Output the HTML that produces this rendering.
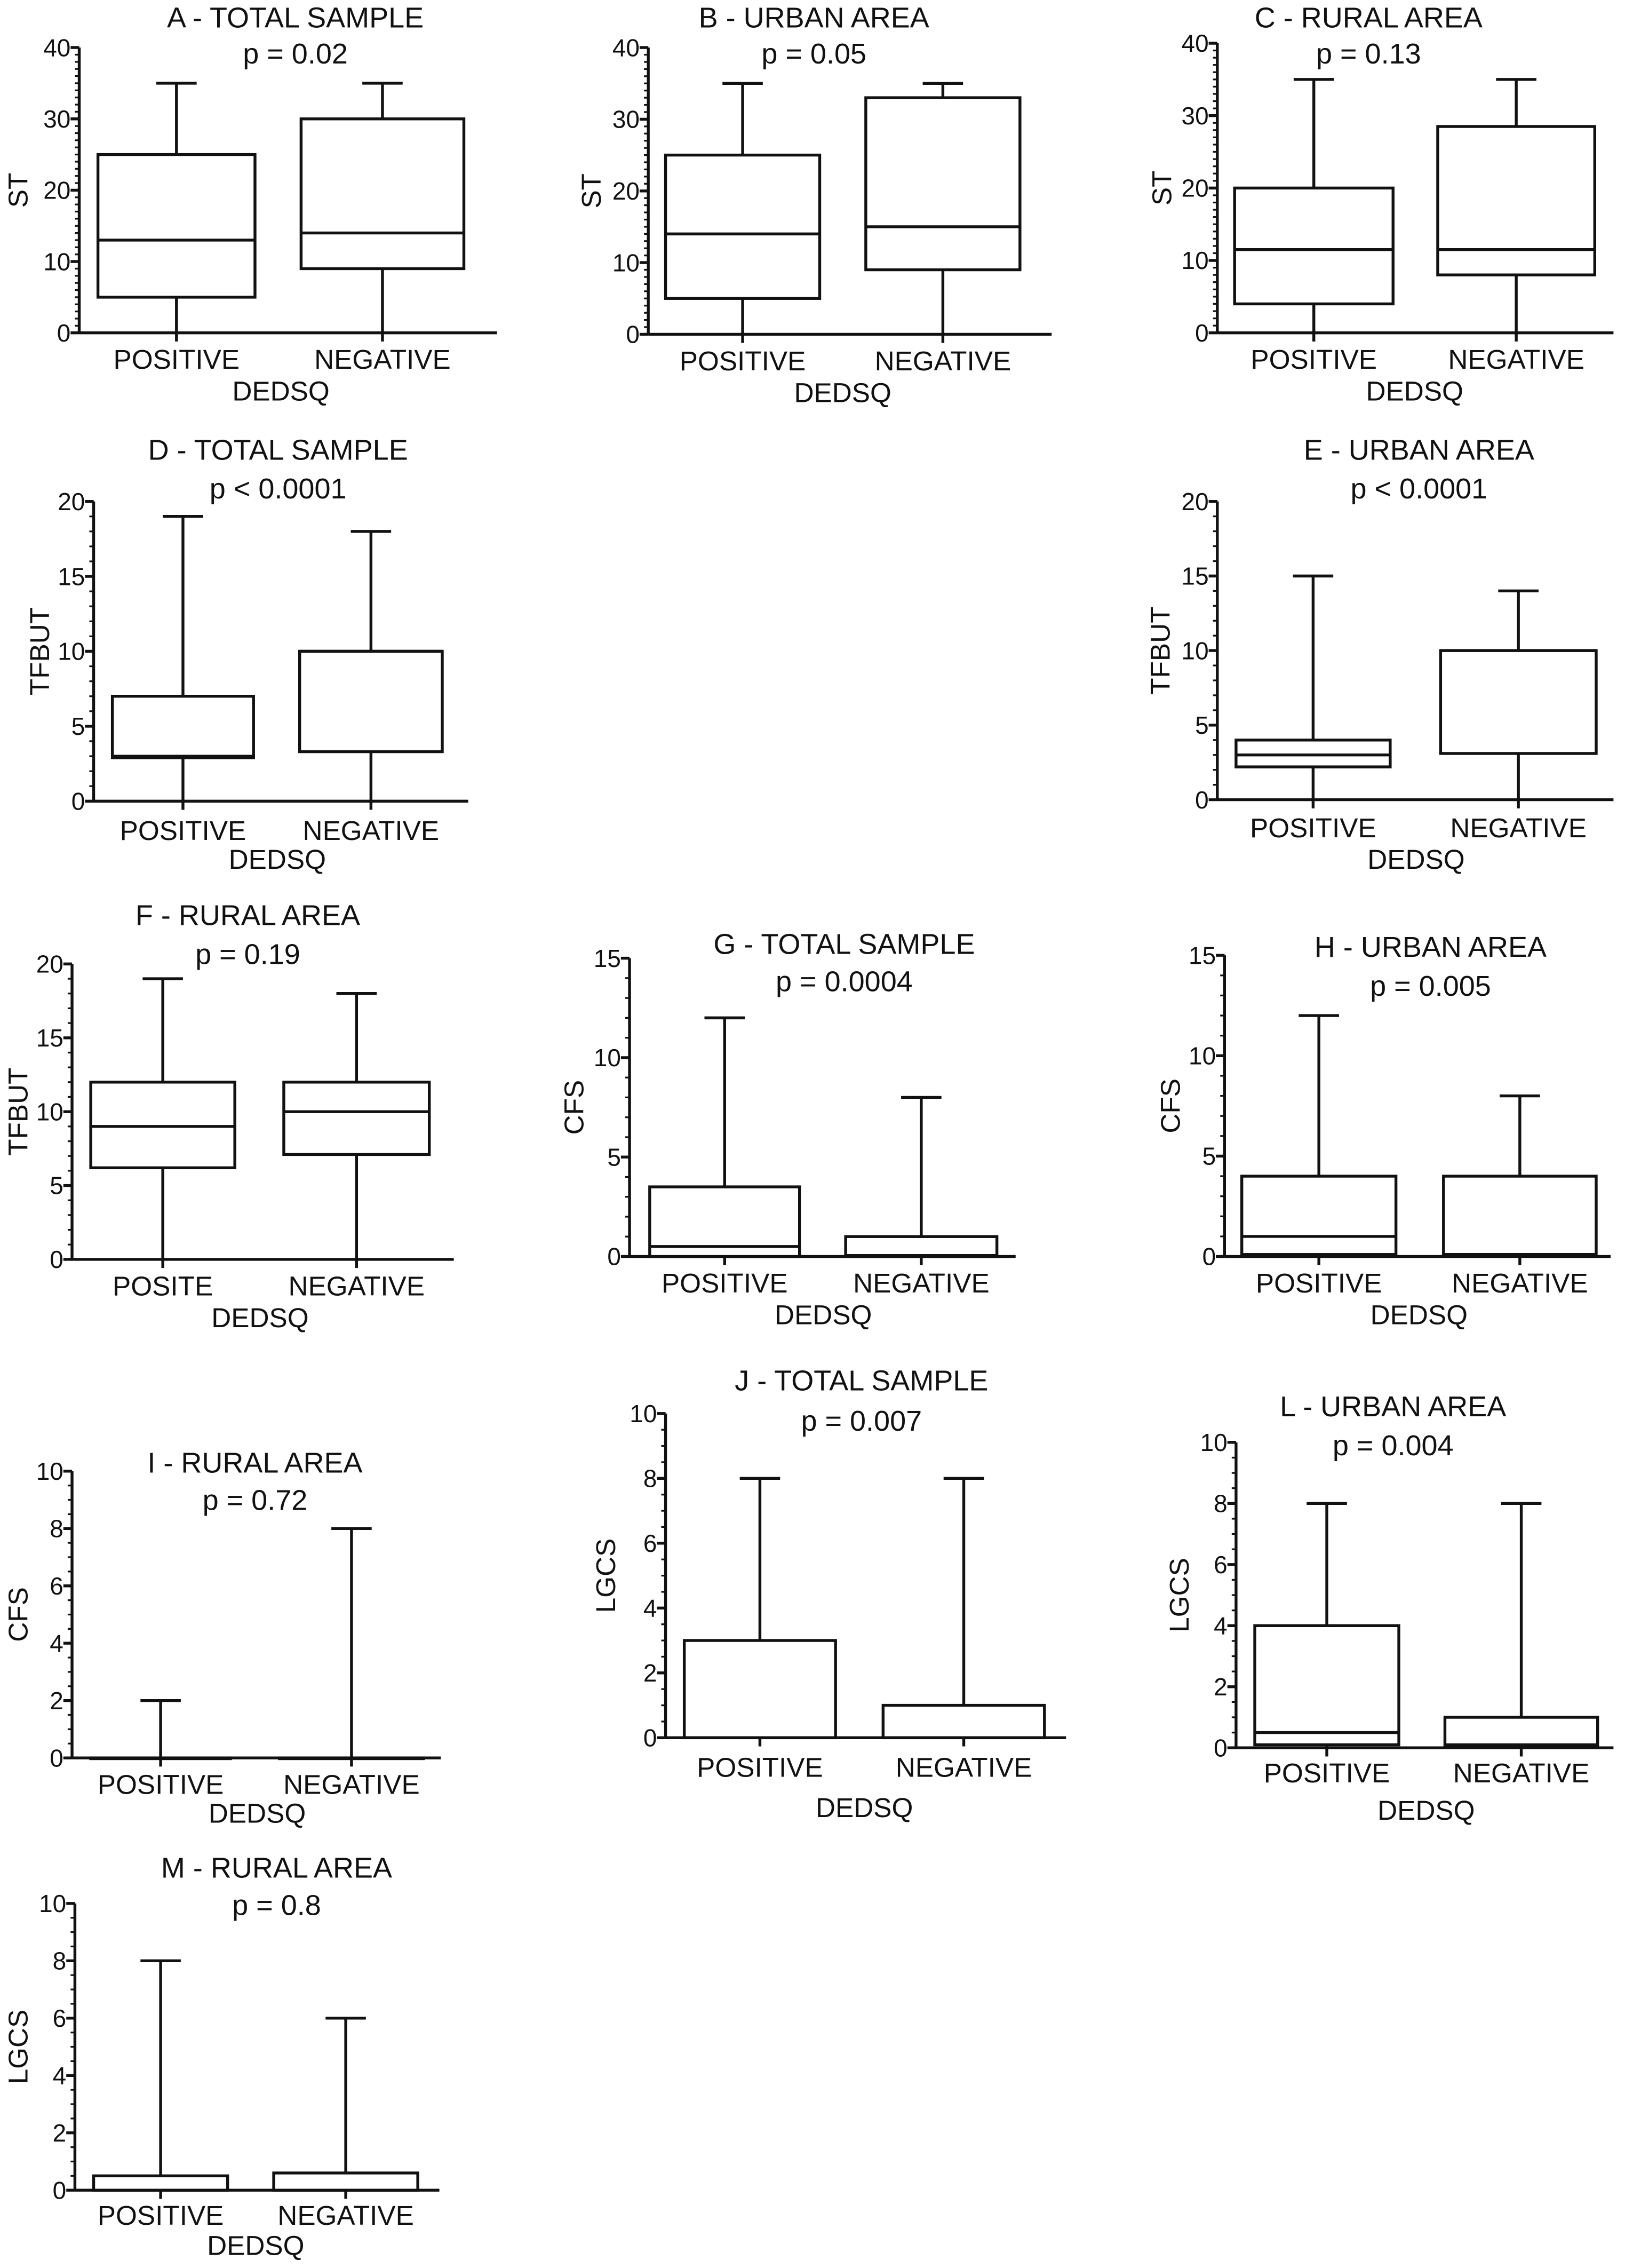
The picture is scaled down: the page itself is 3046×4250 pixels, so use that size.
<!DOCTYPE html>
<html><head><meta charset="utf-8"><style>
html,body{margin:0;padding:0;background:#fff}
svg{display:block}
text{font-family:"Liberation Sans",Arial,sans-serif;fill:#111}
</style></head><body>
<svg id="chart" width="3046" height="4250" viewBox="0 0 1128 1574" preserveAspectRatio="none" xmlns="http://www.w3.org/2000/svg"></svg>
<script>
// Panel data arrays: [whiskerLow, q1, median, q3, whiskerHigh]
const panelIds = ["A","B","C","D","E","F","G","H","I","J","L","M"];
const panelTitles = ["A - TOTAL SAMPLE","B - URBAN AREA","C - RURAL AREA","D - TOTAL SAMPLE","E - URBAN AREA","F - RURAL AREA","G - TOTAL SAMPLE","H - URBAN AREA","I - RURAL AREA","J - TOTAL SAMPLE","L - URBAN AREA","M - RURAL AREA"];
const panelPvalues = ["p = 0.02","p = 0.05","p = 0.13","p < 0.0001","p < 0.0001","p = 0.19","p = 0.0004","p = 0.005","p = 0.72","p = 0.007","p = 0.004","p = 0.8"];
const panelYLabels = ["ST","ST","ST","TFBUT","TFBUT","TFBUT","CFS","CFS","CFS","LGCS","LGCS","LGCS"];
const panelYMax = [40,40,40,20,20,20,15,15,10,10,10,10];
const panelYStep = [10,10,10,5,5,5,5,5,2,2,2,2];
const categories = [["POSITIVE","NEGATIVE"],["POSITIVE","NEGATIVE"],["POSITIVE","NEGATIVE"],["POSITIVE","NEGATIVE"],["POSITIVE","NEGATIVE"],["POSITE","NEGATIVE"],["POSITIVE","NEGATIVE"],["POSITIVE","NEGATIVE"],["POSITIVE","NEGATIVE"],["POSITIVE","NEGATIVE"],["POSITIVE","NEGATIVE"],["POSITIVE","NEGATIVE"]];
const positiveStats = [[0,5,13,25,35],[0,5,14,25,35],[0,4,11.5,20,35],[0,2.9,3,7,19],[0,2.2,3,4,15],[0,6.2,9,12,19],[0,0,0.5,3.5,12],[0,0.1,1,4,12],[0,0,0,0,2],[0,0,0,3,8],[0,0.1,0.5,4,8],[0,0,0,0.5,8]];
const negativeStats = [[0,9,14,30,35],[0,9,15,33,35],[0,8,11.5,28.5,35],[0,3.3,10,10,18],[0,3.1,10,10,14],[0,7.1,10,12,18],[0,0,0.05,1,8],[0,0.1,0.1,4,8],[0,0,0,0,8],[0,0,0,1,8],[0,0.05,0.1,1,8],[0,0,0,0.6,6]];

// layout (view units)
const layout = {
 A:{ax:55,yTop:33,yBot:231,b1:[68,177],b2:[209,322],xEnd:345,tx:205,ty:19,py:44,ly:256,dy:278,yl:12},
 B:{ax:450,yTop:33,yBot:232,b1:[462,569],b2:[601,708],xEnd:730,tx:565,ty:19,py:44,ly:257,dy:279,yl:410},
 C:{ax:845,yTop:30,yBot:231,b1:[857,967],b2:[998,1107],xEnd:1120,tx:950,ty:19,py:44,ly:256,dy:278,yl:806},
 D:{ax:65,yTop:348,yBot:556,b1:[78,176],b2:[208,307],xEnd:325,tx:193,ty:319,py:346,ly:583,dy:603,yl:27},
 E:{ax:845,yTop:348,yBot:555,b1:[858,965],b2:[1000,1108],xEnd:1120,tx:985,ty:319,py:346,ly:581,dy:603,yl:805},
 F:{ax:50,yTop:669,yBot:874,b1:[63,163],b2:[197,298],xEnd:315,tx:172,ty:642,py:669,ly:899,dy:921,yl:12},
 G:{ax:437,yTop:665,yBot:872,b1:[451,555],b2:[587,692],xEnd:705,tx:586,ty:662,py:688,ly:897,dy:919,yl:398},
 H:{ax:850,yTop:663,yBot:872,b1:[862,969],b2:[1002,1108],xEnd:1118,tx:993,ty:664,py:691,ly:897,dy:919,yl:812},
 I:{ax:50,yTop:1021,yBot:1220,b1:[63,160],b2:[194,294],xEnd:306,tx:177,ty:1022,py:1048,ly:1245,dy:1265,yl:12},
 J:{ax:462,yTop:981,yBot:1206,b1:[475,580],b2:[613,725],xEnd:740,tx:598,ty:965,py:993,ly:1233,dy:1261,yl:420},
 L:{ax:858,yTop:1001,yBot:1213,b1:[871,971],b2:[1003,1109],xEnd:1120,tx:967,ty:983,py:1010,ly:1237,dy:1263,yl:818},
 M:{ax:52,yTop:1321,yBot:1520,b1:[65,158],b2:[190,290],xEnd:305,tx:192,ty:1303,py:1329,ly:1544,dy:1565,yl:12}
};

const svg = document.getElementById('chart');
const NS = 'http://www.w3.org/2000/svg';
function mk(tag, attrs, parent){
  const e = document.createElementNS(NS, tag);
  for (const k in attrs) e.setAttribute(k, attrs[k]);
  parent.appendChild(e);
  return e;
}
function txt(parent, x, y, s, size, anchor){
  const t = mk('text', {x:x, y:y, 'font-size':size, 'text-anchor':anchor||'middle'}, parent);
  t.textContent = s;
  return t;
}

panelIds.forEach((id, i) => {
  const L = layout[id];
  const g = mk('g', {}, svg);
  
  
  const ymax = panelYMax[i], step = panelYStep[i];
  const yScale = v => L.yBot - (v / ymax) * (L.yBot - L.yTop);
  const big = 20;

  const title = txt(g, L.tx, L.ty, panelTitles[i], big);
  
  
  const p = txt(g, L.tx, L.py, panelPvalues[i], big);
  
  

  const yAxis = mk('line', {x1:L.ax, y1:L.yTop, x2:L.ax, y2:L.yBot, stroke:'#111', 'stroke-width':2}, g);
  
  
  const minor = ymax >= 15 ? 1 : 0.5;
  for (let v = 0; v <= ymax + 1e-9; v += minor) {
    mk('line', {x1:L.ax-3, y1:yScale(v), x2:L.ax, y2:yScale(v), stroke:'#111', 'stroke-width':1.2}, g);
  }
  for (let v = 0; v <= ymax + 1e-9; v += step) {
    mk('line', {x1:L.ax-6, y1:yScale(v), x2:L.ax, y2:yScale(v), stroke:'#111', 'stroke-width':2}, g);
    const tl = txt(g, L.ax-6, yScale(v)+6, String(v), 17, 'end');
    
    
  }
  const yl = txt(g, 0, 0, panelYLabels[i], 19);
  yl.setAttribute('transform', 'translate(' + (L.yl+7) + ',' + ((L.yTop+L.yBot)/2) + ') rotate(-90)');
  
  

  const xAxis = mk('line', {x1:L.ax, y1:L.yBot, x2:L.xEnd, y2:L.yBot, stroke:'#111', 'stroke-width':2}, g);
  
  

  [[L.b1, positiveStats[i], 0], [L.b2, negativeStats[i], 1]].forEach(([b, s, k]) => {
    const cx = (b[0] + b[1]) / 2;
    const bg = mk('g', {}, g);
    
    
    mk('line', {x1:cx, y1:L.yBot, x2:cx, y2:L.yBot+6, stroke:'#111', 'stroke-width':2}, bg);
    mk('line', {x1:cx, y1:yScale(s[0]), x2:cx, y2:yScale(s[1]), stroke:'#111', 'stroke-width':2}, bg);
    mk('line', {x1:cx, y1:yScale(s[3]), x2:cx, y2:yScale(s[4]), stroke:'#111', 'stroke-width':2}, bg);
    mk('line', {x1:cx-14, y1:yScale(s[4]), x2:cx+14, y2:yScale(s[4]), stroke:'#111', 'stroke-width':2}, bg);
    const h = Math.max(yScale(s[1]) - yScale(s[3]), 0.5);
    mk('rect', {x:b[0], y:yScale(s[3]), width:b[1]-b[0], height:h, fill:'#fff', stroke:'#111', 'stroke-width':2}, bg);
    mk('line', {x1:b[0], y1:yScale(s[2]), x2:b[1], y2:yScale(s[2]), stroke:'#111', 'stroke-width':2}, bg);
    const cl = txt(g, cx, L.ly, categories[i][k], 19);
    
    
  });
  const d = txt(g, (L.b1[0] + L.b2[1]) / 2, L.dy, 'DEDSQ', 19);
  
  
});
</script>
</body></html>
